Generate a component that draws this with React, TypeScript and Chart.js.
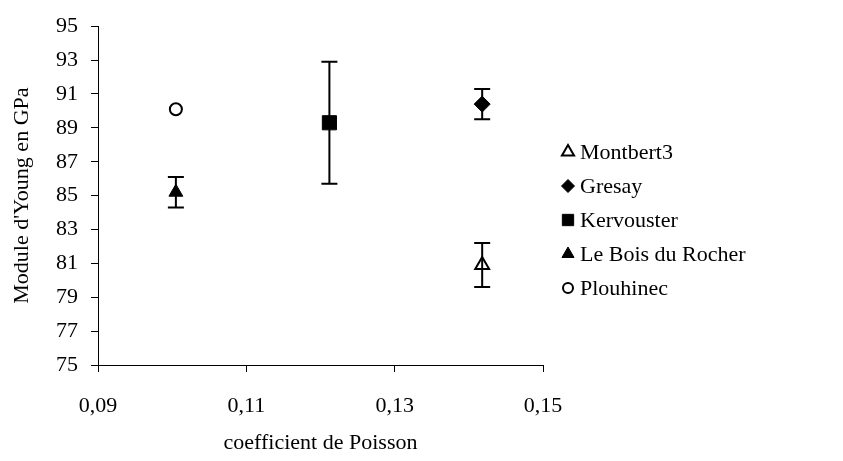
import React, { useEffect, useRef } from 'react';
import { Chart, registerables } from 'chart.js';
import { drawPoint } from 'chart.js/helpers';

Chart.register(...registerables);

// ---- data ----
const seriesNames = ['Montbert3', 'Gresay', 'Kervouster', 'Le Bois du Rocher', 'Plouhinec'];
const poissonValues = [0.1418, 0.1418, 0.1212, 0.1005, 0.1005];
const youngValues = [80.9, 90.4, 89.3, 85.2, 90.1];
const youngErrors = [1.3, 0.9, 3.6, 0.9, 0];
const xTickValues = [0.09, 0.11, 0.13, 0.15];
const yTickValues = [75, 77, 79, 81, 83, 85, 87, 89, 91, 93, 95];

// ---- styles ----
const FONT = 'Liberation Serif';
const FONT_SIZE = 22;
const markerStyles = [
  { pointStyle: 'triangle', radius: 8, fill: '#ffffff', borderWidth: 2, legendRadius: 7 },
  { pointStyle: 'rectRot', radius: 8, fill: '#000000', borderWidth: 1, legendRadius: 6.5 },
  { pointStyle: 'rect', radius: 10, fill: '#000000', borderWidth: 1, legendRadius: 8 },
  { pointStyle: 'triangle', radius: 8, fill: '#000000', borderWidth: 1, legendRadius: 7 },
  { pointStyle: 'circle', radius: 6, fill: '#ffffff', borderWidth: 2, legendRadius: 5 },
];

const errorBarPlugin = {
  id: 'errorBars',
  afterDatasetsDraw(chart: any) {
    const ctx = chart.ctx;
    const yScale = chart.scales.y;
    ctx.save();
    ctx.strokeStyle = '#000';
    ctx.lineWidth = 2;
    chart.data.datasets.forEach((ds: any, i: number) => {
      const err = youngErrors[i];
      if (!err) return;
      const meta = chart.getDatasetMeta(i);
      meta.data.forEach((el: any, j: number) => {
        const v = ds.data[j].y;
        const x = el.x;
        const yt = yScale.getPixelForValue(v + err);
        const yb = yScale.getPixelForValue(v - err);
        const cap = 8;
        ctx.beginPath();
        ctx.moveTo(x, yt);
        ctx.lineTo(x, yb);
        ctx.moveTo(x - cap, yt);
        ctx.lineTo(x + cap, yt);
        ctx.moveTo(x - cap, yb);
        ctx.lineTo(x + cap, yb);
        ctx.stroke();
      });
    });
    ctx.restore();
  },
};

const legendPlugin = {
  id: 'sideLegend',
  afterDraw(chart: any) {
    const ctx = chart.ctx;
    const markerX = 568;
    const textX = 580;
    const top = 152;
    const gap = 34;
    ctx.save();
    chart.data.datasets.forEach((ds: any, i: number) => {
      const y = top + i * gap;
      const st = markerStyles[i];
      ctx.fillStyle = st.fill;
      ctx.strokeStyle = '#000';
      ctx.lineWidth = st.borderWidth;
      drawPoint(ctx, { pointStyle: st.pointStyle, radius: st.legendRadius, borderWidth: st.borderWidth, rotation: 0 } as any, markerX, y);
      ctx.fillStyle = '#000';
      ctx.font = `${FONT_SIZE}px "${FONT}"`;
      ctx.textAlign = 'left';
      ctx.textBaseline = 'middle';
      ctx.fillText(ds.label, textX, y + 1);
    });
    ctx.restore();
  },
};

export default function App() {
  const canvasRef = useRef<HTMLCanvasElement>(null);

  useEffect(() => {
    if (!canvasRef.current) return;
    const datasets = seriesNames.map((name, i) => ({
      label: name,
      data: [{ x: poissonValues[i], y: youngValues[i] }],
      pointStyle: markerStyles[i].pointStyle,
      pointRadius: markerStyles[i].radius,
      pointBackgroundColor: markerStyles[i].fill,
      pointBorderColor: '#000',
      pointBorderWidth: markerStyles[i].borderWidth,
      showLine: false,
    }));
    const font = { family: FONT, size: FONT_SIZE };
    const chart = new Chart(canvasRef.current, {
      type: 'scatter',
      data: { datasets } as any,
      options: {
        responsive: false,
        animation: false,
        layout: { padding: { left: 0, top: 24, right: 300, bottom: 0 } },
        plugins: { legend: { display: false }, tooltip: { enabled: false } },
        scales: {
          x: {
            type: 'linear',
            min: 0.09,
            max: 0.15,
            afterBuildTicks: (s: any) => { s.ticks = xTickValues.map((v) => ({ value: v })); },
            afterFit: (s: any) => { s.height = 96; },
            grid: { drawOnChartArea: false, drawTicks: true, tickLength: 7, color: '#000', lineWidth: 1 },
            border: { display: true, color: '#000', width: 1 },
            ticks: {
              font,
              color: '#000',
              padding: 21,
              maxRotation: 0,
              autoSkip: false,
              callback: (v: any) => Number(v).toFixed(2).replace('.', ','),
            },
            title: { display: true, text: 'coefficient de Poisson', font, color: '#000', padding: { top: 0, bottom: 5 } },
          },
          y: {
            type: 'linear',
            min: 75,
            max: 95,
            afterBuildTicks: (s: any) => { s.ticks = yTickValues.map((v) => ({ value: v })); },
            afterFit: (s: any) => { s.width = 98; },
            grid: { drawOnChartArea: false, drawTicks: true, tickLength: 7, color: '#000', lineWidth: 1 },
            border: { display: true, color: '#000', width: 1 },
            ticks: { font, color: '#000', padding: 13, autoSkip: false, callback: (v: any) => String(v) },
            title: { display: true, text: "Module d'Young en GPa", font, color: '#000', padding: { top: 9, bottom: 0 } },
          },
        },
      } as any,
      plugins: [errorBarPlugin, legendPlugin],
    });
    return () => chart.destroy();
  }, []);

  return (
    <div style={{ position: 'absolute', left: 0, top: 0, width: 843, height: 461, background: '#fff' }}>
      <canvas ref={canvasRef} width={843} height={461} />
    </div>
  );
}
